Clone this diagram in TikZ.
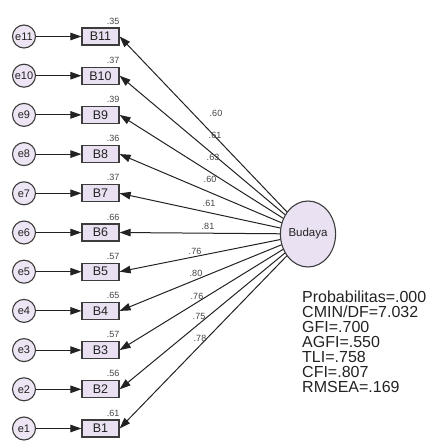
\documentclass[tikz,border=0pt]{standalone}
\usepackage{fontspec}
\setmainfont{Liberation Sans}
\usetikzlibrary{arrows.meta,shapes.geometric}
\definecolor{bordc}{HTML}{3C3C3C}
\definecolor{boxfill}{HTML}{E9E1F2}
\definecolor{circfill}{HTML}{EDE5F3}
\definecolor{latfill}{HTML}{EAE2F3}
\definecolor{txt}{HTML}{222222}
\tikzset{
 errc/.style={circle, draw=bordc, line width=1.1pt, fill=circfill, minimum size=23pt, inner sep=0pt, font=\fontsize{11}{12}\selectfont, text=txt},
 obsbox/.style={rectangle, draw=bordc, line width=1.2pt, fill=boxfill, minimum width=37pt, minimum height=17pt, inner sep=0pt, font=\fontsize{12.5}{13}\selectfont, text=txt},
 latent/.style={ellipse, draw=bordc, line width=1.1pt, fill=latfill, minimum width=46pt, minimum height=66pt, inner sep=0pt, font=\fontsize{11.5}{13}\selectfont, text=txt},
 arr/.style={-{Triangle[length=11pt,width=7.5pt]}, line width=1pt, draw=txt},
 lbl/.style={font=\fontsize{9}{10}\selectfont, text=txt!85, inner sep=0pt},
 fitstat/.style={anchor=base west, inner sep=0pt, font=\fontsize{16}{16}\selectfont, text=txt},
}
\begin{document}
\begin{tikzpicture}[x=1pt,y=1pt]
\useasboundingbox (0,0) rectangle (428,-441);
\node[latent] (bud) at (308,-234) {Budaya};
\foreach \k/\r in {11/.35,10/.37,9/.39,8/.36,7/.37,6/.66,5/.57,4/.65,3/.57,2/.56,1/.61} {
  \pgfmathsetmacro\yy{-36.5-(11-\k)*39.2}
  \node[errc] (e\k) at (24,\yy) {e\k};
  \node[obsbox] (B\k) at (100.5,\yy) {B\k};
  \node[lbl, anchor=south east] (r\k) at ([yshift=3pt]B\k.north east) {\r};
  \draw[arr] (e\k) -- (B\k);
  \draw[arr] (bud) -- (B\k.east);
}
\foreach \k/\v/\x/\y in {11/.60/216/113, 10/.61/215/135, 9/.63/213/157, 8/.60/210/179, 7/.61/209/203, 6/.81/208/226, 5/.76/195/251, 4/.80/196/273, 3/.76/197/296, 2/.75/199/316, 1/.78/200/338}
  \node[lbl] (w\k) at (\x,-\y) {\v};
\foreach \i/\t in {0/Probabilitas=.000, 1/CMIN\slash DF=7.032, 2/GFI=.700, 3/AGFI=.550, 4/TLI=.758, 5/CFI=.807, 6/RMSEA=.169}
  \node[fitstat] (fit\i) at (302,-302.5-15*\i) {\t};
\end{tikzpicture}
\end{document}
